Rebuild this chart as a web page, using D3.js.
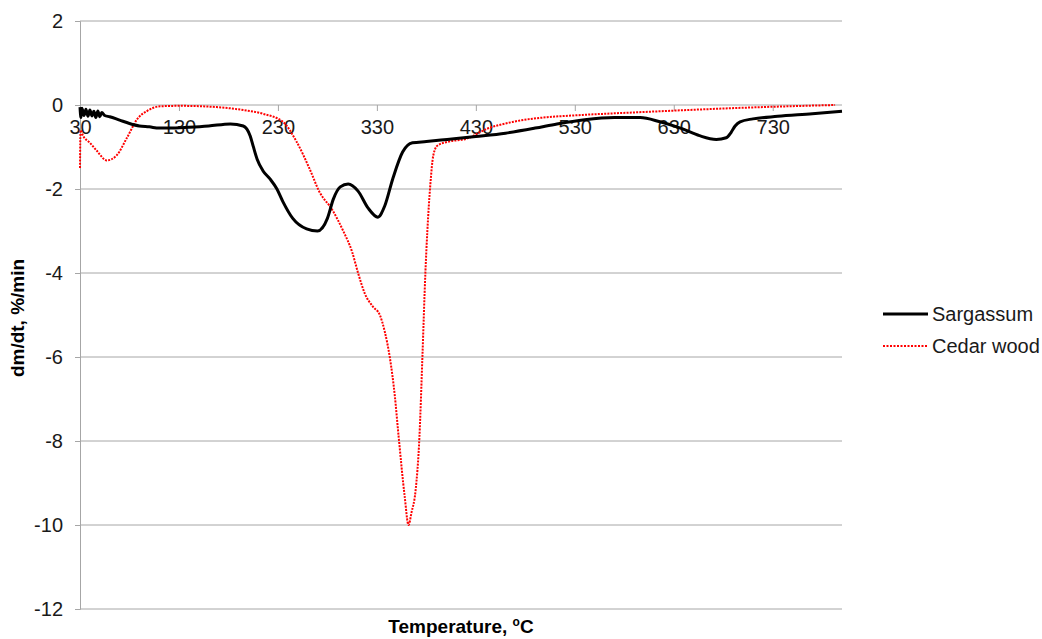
<!DOCTYPE html>
<html>
<head>
<meta charset="utf-8">
<script src="https://cdn.jsdelivr.net/npm/d3@7/dist/d3.min.js"></script>
<style>
  body { margin: 0; background: #fff; }
  svg { display: block; font-family: "Liberation Sans", Arial, sans-serif; }
</style>
</head>
<body>
<div id="chart"></div>
<script>
// DTG curves, [temperature °C, dm/dt %/min]
const sargassum = [
  [30, -0.05], [31, -0.3], [32, -0.08], [34, -0.25], [36, -0.1], [38, -0.27], [40, -0.12],
  [42, -0.26], [44, -0.15], [46, -0.3], [48, -0.14], [50, -0.28], [52, -0.18], [55, -0.25],
  [60, -0.28], [70, -0.36], [80, -0.44], [90, -0.5], [100, -0.52], [110, -0.55],
  [120, -0.55], [140, -0.53], [160, -0.5], [182, -0.45], [195, -0.5], [202, -0.74],
  [205, -0.98], [209, -1.29], [215, -1.57], [222, -1.76], [229, -2.0], [235, -2.3],
  [245, -2.7], [259, -2.95], [270, -3.0], [280, -2.7], [286, -2.24], [293, -1.95],
  [301, -1.88], [311, -2.05], [321, -2.45], [331, -2.67], [338, -2.4], [346, -1.76],
  [356, -1.12], [366, -0.9], [380, -0.87], [401, -0.82], [430, -0.75], [460, -0.67],
  [490, -0.55], [512, -0.45], [540, -0.35], [570, -0.3], [596, -0.3], [616, -0.4],
  [639, -0.57], [656, -0.73], [673, -0.82], [683, -0.78], [688, -0.65], [692, -0.5],
  [697, -0.4], [710, -0.33], [735, -0.27], [770, -0.21], [800, -0.15]
];

const cedarWood = [
  [30, -1.5], [30.5, -0.6], [33, -0.73], [40, -0.9], [47, -1.09], [57, -1.32],
  [67, -1.2], [77, -0.8], [88, -0.33], [98, -0.14], [111, -0.03], [131, -0.02],
  [168, -0.05], [195, -0.12], [215, -0.21], [235, -0.4], [249, -0.88], [262, -1.52],
  [272, -2.07], [285, -2.5], [296, -3.0], [305, -3.5], [311, -4.0], [318, -4.5],
  [326, -4.8], [333, -5.0], [338, -5.4], [343, -6.0], [348, -6.9], [352, -7.9],
  [358, -9.3], [362, -10.0], [365, -9.7], [369, -9.2], [373, -7.9], [376, -6.0],
  [379, -4.0], [381, -3.0], [384, -1.9], [387, -1.2], [391, -0.97], [401, -0.88],
  [421, -0.8], [441, -0.57], [468, -0.4], [502, -0.29], [528, -0.25], [606, -0.16],
  [707, -0.06], [793, 0.0]
];

const xTicks = [30, 130, 230, 330, 430, 530, 630, 730];
const yTicks = [2, 0, -2, -4, -6, -8, -10, -12];
const seriesNames = ["Sargassum", "Cedar wood"];

const width = 1042, height = 639;
const plotLeft = 80, plotRight = 842, plotTop = 21, plotBottom = 609;

const svg = d3.select("#chart").append("svg")
    .attr("width", width)
    .attr("height", height);

const x = d3.scaleLinear().domain([30, 800]).range([plotLeft, plotRight]);
const y = d3.scaleLinear().domain([-12, 2]).range([plotBottom, plotTop]);

const gridColor = "#a6a6a6";
const textColor = "#1a1a1a";
const plainNum = d => String(d); // keep ASCII hyphen like the original

// horizontal gridlines
svg.append("g")
    .selectAll("line")
    .data(yTicks)
    .enter().append("line")
    .attr("x1", plotLeft).attr("x2", plotRight)
    .attr("y1", d => y(d)).attr("y2", d => y(d))
    .attr("stroke", gridColor)
    .attr("stroke-width", 1);

// y axis
const yAxis = svg.append("g")
    .attr("transform", `translate(${plotLeft},0)`)
    .call(d3.axisLeft(y).tickValues(yTicks).tickFormat(plainNum).tickSize(5).tickPadding(12));
yAxis.select(".domain").attr("stroke", gridColor);
yAxis.selectAll(".tick line").attr("stroke", gridColor);
yAxis.selectAll(".tick text")
    .attr("fill", textColor)
    .style("font-size", "20px")
    .style("font-family", "'Liberation Sans', Arial, sans-serif");

// x axis sits on the zero line
const xAxis = svg.append("g")
    .attr("transform", `translate(0,${y(0)})`)
    .call(d3.axisBottom(x).tickValues(xTicks).tickFormat(plainNum).tickSize(6).tickPadding(9));
xAxis.select(".domain").remove();
xAxis.selectAll(".tick line").attr("stroke", gridColor);
xAxis.selectAll(".tick text")
    .attr("fill", textColor)
    .style("font-size", "20px")
    .style("font-family", "'Liberation Sans', Arial, sans-serif");

const line = d3.line()
    .x(d => x(d[0]))
    .y(d => y(d[1]))
    .curve(d3.curveMonotoneX);

svg.append("path")
    .datum(cedarWood)
    .attr("fill", "none")
    .attr("stroke", "#ff0000")
    .attr("stroke-width", 2)
    .attr("stroke-dasharray", "2,1.2")
    .attr("d", line);

svg.append("path")
    .datum(sargassum)
    .attr("fill", "none")
    .attr("stroke", "#000")
    .attr("stroke-width", 3)
    .attr("stroke-linejoin", "round")
    .attr("d", line);

// axis titles
svg.append("text")
    .attr("transform", `translate(24,318) rotate(-90)`)
    .attr("text-anchor", "middle")
    .attr("fill", "#000")
    .style("font-size", "19px")
    .style("font-weight", "bold")
    .text("dm/dt, %/min");

const xTitle = svg.append("text")
    .attr("x", 461)
    .attr("y", 633)
    .attr("text-anchor", "middle")
    .attr("fill", "#000")
    .style("font-size", "19px")
    .style("font-weight", "bold");
xTitle.append("tspan").text("Temperature, ");
xTitle.append("tspan").attr("dy", -7).style("font-size", "12px").text("o");
xTitle.append("tspan").attr("dy", 7).text("C");

// legend
const legend = svg.append("g");
const legendStyles = [
  { color: "#000", width: 3, dash: null },
  { color: "#ff0000", width: 2, dash: "2,1.5" }
];
seriesNames.forEach((name, i) => {
    const ly = 314 + i * 32;
    const st = legendStyles[i];
    legend.append("line")
        .attr("x1", 883).attr("x2", 928)
        .attr("y1", ly).attr("y2", ly)
        .attr("stroke", st.color)
        .attr("stroke-width", st.width)
        .attr("stroke-dasharray", st.dash);
    legend.append("text")
        .attr("x", 932)
        .attr("y", ly + 7)
        .attr("fill", textColor)
        .style("font-size", "20px")
        .text(name);
});
</script>
</body>
</html>
